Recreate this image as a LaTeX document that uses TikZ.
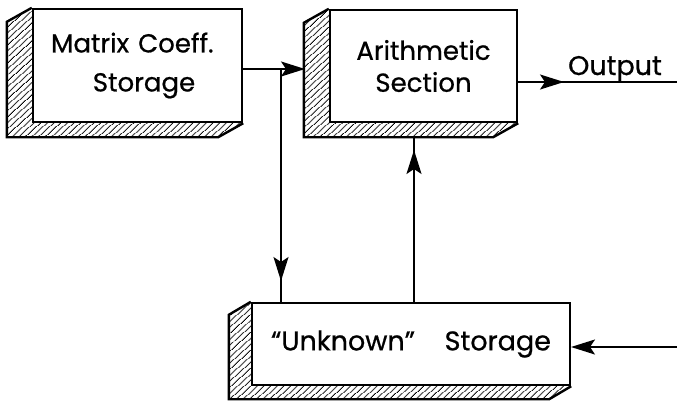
\documentclass[tikz,border=0pt]{standalone}
\usepackage{fontspec}
\setmainfont{Poppins}[FakeBold=0.7]
\usetikzlibrary{arrows.meta,patterns.meta,decorations.markings}
\begin{document}
\begin{tikzpicture}[x=1pt,y=-1pt,
  >={Stealth[length=24pt,width=15pt,inset=5pt]},
  box/.style={draw, line width=2.4pt, fill=white, inner sep=0pt, align=center},
  lbl/.style={font=\fontsize{27}{32}\selectfont},
  conn/.style={line width=1.8pt},
  arrowat/.style={postaction={decorate}, decoration={markings, mark=at position #1 with {\arrow{>}}}}
]
\useasboundingbox (0,0) rectangle (677,400);
\newcommand\boxshade[3]{%
  \fill[pattern={Lines[angle=42,distance=4pt,line width=1pt]}]
    (#1.north west) -- ++(-#2,#3) -- ([shift={(-#2,#3)}]#1.south west)
    -- ([shift={(-#2,#3)}]#1.south east) -- (#1.south east) -- (#1.south west) -- cycle;
  \draw[line width=2.4pt, line join=miter]
    (#1.north west) -- ++(-#2,#3) -- ([shift={(-#2,#3)}]#1.south west)
    -- ([shift={(-#2,#3)}]#1.south east) -- (#1.south east);
}
% boxes
\node[box, minimum width=209pt, minimum height=113pt,
      font=\fontsize{26}{39}\selectfont] (box1) at (137.5,65.5)
  {\hspace*{-0.4em}Matrix\hspace{0.35em}Coeff.\\\hspace*{0.5em}Storage};
\node[box, minimum width=187pt, minimum height=112pt,
      font=\fontsize{26}{32}\selectfont] (box2) at (423.5,66)
  {Arithmetic\\Section};
\node[box, minimum width=318pt, minimum height=82pt,
      font=\fontsize{27}{32}\selectfont] (box3) at (411,344)
  {``Unknown''\hspace{1.1em}Storage};
\boxshade{box1}{25}{14}
\boxshade{box2}{25}{14}
\boxshade{box3}{22}{13}
% connector points
\coordinate (b1out) at (242,69);
\coordinate (b2in) at (305,69);
\coordinate (j) at (281,69);
\coordinate (b3top) at (281,303);
\coordinate (u1) at (414,303);
\coordinate (u2) at (414,137);
\coordinate (o1) at (517,82);
\coordinate (o2) at (677,82);
\coordinate (i1) at (677,347);
\coordinate (i2) at (571,347);
% connectors
\draw[conn, ->] (b1out) -- (b2in);
\draw[conn, arrowat=212pt] (j) -- (b3top);
\draw[conn, arrowat=153pt] (u1) -- (u2);
\draw[conn, arrowat=47pt] (o1) -- (o2);
\draw[conn, ->] (i1) -- (i2);
\node[lbl, anchor=base] (outlbl) at (615,75) {Output};
\end{tikzpicture}
\end{document}
